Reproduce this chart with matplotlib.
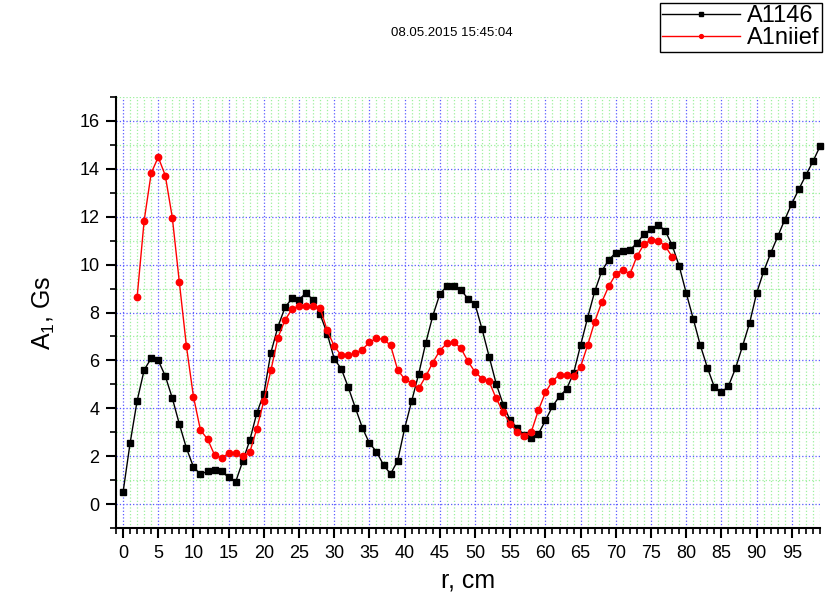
import matplotlib
matplotlib.use("Agg")
import matplotlib.pyplot as plt
from matplotlib.ticker import MultipleLocator

plt.rcParams['font.family'] = ['Liberation Sans', 'DejaVu Sans']
plt.rcParams['mathtext.fontset'] = 'custom'
plt.rcParams['mathtext.rm'] = 'Liberation Sans'
plt.rcParams['mathtext.it'] = 'Liberation Sans'
plt.rcParams['mathtext.default'] = 'regular'

# r, cm
r_a1146 = list(range(0, 100))
a1146 = [0.49, 2.54, 4.31, 5.60, 6.09, 6.00, 5.35, 4.42, 3.34, 2.34,
         1.55, 1.24, 1.37, 1.42, 1.37, 1.11, 0.93, 1.79, 2.66, 3.80,
         4.61, 6.32, 7.40, 8.21, 8.59, 8.54, 8.82, 8.52, 7.92, 7.12,
         6.06, 5.65, 4.87, 4.02, 3.18, 2.54, 2.19, 1.63, 1.26, 1.80,
         3.16, 4.30, 5.44, 6.73, 7.86, 8.77, 9.10, 9.10, 8.95, 8.57,
         8.35, 7.30, 6.16, 5.03, 4.15, 3.49, 3.18, 2.87, 2.74, 2.93,
         3.49, 4.08, 4.50, 4.80, 5.47, 6.64, 7.79, 8.88, 9.73, 10.20,
         10.50, 10.57, 10.61, 10.90, 11.27, 11.48, 11.67, 11.42, 10.81, 9.94,
         8.81, 7.73, 6.63, 5.70, 4.88, 4.66, 4.93, 5.67, 6.60, 7.56,
         8.81, 9.72, 10.48, 11.18, 11.88, 12.55, 13.15, 13.74, 14.31, 14.94]

r_niief = list(range(2, 79))
a1niief = [8.64, 11.84, 13.82, 14.49, 13.72, 11.96, 9.26, 6.60,
           4.49, 3.08, 2.72, 2.05, 1.93, 2.12, 2.12, 1.99, 2.16, 3.15,
           4.31, 5.58, 6.95, 7.68, 8.14, 8.28, 8.29, 8.28, 8.19, 7.25,
           6.59, 6.21, 6.21, 6.30, 6.45, 6.76, 6.92, 6.88, 6.63, 5.61,
           5.22, 5.05, 4.83, 5.33, 5.91, 6.41, 6.71, 6.76, 6.50, 5.96,
           5.51, 5.24, 5.12, 4.41, 3.84, 3.35, 3.02, 2.86, 3.02, 3.92,
           4.66, 5.14, 5.40, 5.40, 5.36, 5.74, 6.64, 7.62, 8.43, 9.10,
           9.60, 9.79, 9.60, 10.35, 10.85, 11.03, 11.00, 10.78, 10.33]

fig = plt.figure(figsize=(8.31, 6.0), dpi=100)
ax = fig.add_axes([116 / 831, 72 / 600, 704 / 831, 431 / 600])

l1, = ax.plot(r_a1146, a1146, color='black', lw=1.0, marker='s',
              markersize=4.2, label='A1146', clip_on=False, zorder=3)
l2, = ax.plot(r_niief, a1niief, color='red', lw=1.0, marker='o',
              markersize=4.6, label='A1niief', zorder=4)

ax.set_xlim(-1, 99)
ax.set_ylim(-1, 17)
ax.xaxis.set_major_locator(MultipleLocator(5))
ax.xaxis.set_minor_locator(MultipleLocator(1))
ax.yaxis.set_major_locator(MultipleLocator(2))
ax.yaxis.set_minor_locator(MultipleLocator(1))

# green minor grid, blue major grid
ax.grid(which='minor', color='#9ef09e', linestyle=':', linewidth=0.9)
ax.grid(which='major', color='#5a5aff', linestyle=':', linewidth=0.9)
ax.set_axisbelow(True)

for s in ['top', 'right']:
    ax.spines[s].set_visible(False)
for s in ['left', 'bottom']:
    ax.spines[s].set_linewidth(1.5)

ax.tick_params(which='major', direction='out', length=7, width=1.5,
               labelsize=13, pad=5)
ax.tick_params(which='minor', direction='out', length=4, width=1.2)

ax.set_xlabel('r, cm', fontsize=18, labelpad=5)
ax.set_ylabel('A$_1$, Gs', fontsize=18, labelpad=16)

fig.text(452 / 831, 1 - 33 / 600, '08.05.2015 15:45:04', fontsize=9.5,
         ha='center', va='center')

fig.legend(handles=[l1, l2], loc='upper right',
           bbox_to_anchor=(822 / 831, 1 - 3 / 600), fontsize=17,
           fancybox=False, edgecolor='black', framealpha=1,
           borderaxespad=0, handlelength=3.3, borderpad=0.1,
           labelspacing=0.0, handletextpad=0.3, markerscale=0.6)

fig.savefig('out.png', dpi=100)
